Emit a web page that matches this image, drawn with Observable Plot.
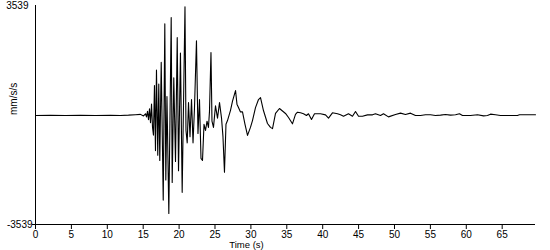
<!DOCTYPE html>
<html>
<head>
<meta charset="utf-8">
<script src="https://cdn.jsdelivr.net/npm/d3@7"></script>
<script src="https://cdn.jsdelivr.net/npm/@observablehq/plot@0.6"></script>
<style>
  html, body { margin: 0; padding: 0; background: #fff; }
  #chart svg { display: block; }
</style>
</head>
<body>
<div id="chart"></div>
<script>
const times = [
  0, 2.09, 4.18, 6.27, 8.36, 10.45, 11.84, 12.95, 13.93, 14.62,
  15.04, 15.32, 15.46, 15.60, 15.74, 15.88, 16.02, 16.16, 16.30, 16.43,
  16.57, 16.71, 16.85, 17.03, 17.17, 17.31, 17.51, 17.79, 18.01, 18.15,
  18.31, 18.57, 18.90, 19.04, 19.26, 19.50, 19.74, 19.92, 20.19, 20.43,
  20.82, 20.96, 21.13, 21.31, 21.52, 21.73, 21.94, 22.14, 22.42, 22.63,
  22.84, 23.05, 23.26, 23.47, 23.68, 23.89, 24.09, 24.23, 24.44, 24.58,
  24.79, 25.07, 25.35, 25.63, 25.91, 26.11, 26.32, 26.53, 26.74, 27.16,
  27.44, 27.86, 28.06, 28.27, 28.55, 28.83, 29.18, 29.53, 29.94, 30.22,
  30.64, 31.06, 31.34, 31.75, 32.31, 32.73, 33.01, 33.43, 33.98, 34.82,
  35.24, 35.79, 36.21, 36.49, 36.91, 37.33, 37.74, 38.02, 38.44, 38.86,
  39.69, 40.39, 40.81, 41.36, 42.06, 42.48, 42.90, 43.59, 44.15, 44.57,
  44.99, 45.54, 46.24, 46.94, 47.35, 48.05, 48.47, 49.16, 50.14, 50.84,
  51.53, 52.23, 52.92, 53.62, 54.32, 55.01, 55.71, 56.41, 57.10, 57.80,
  58.50, 59.05, 59.47, 60.58, 61.56, 62.40, 62.95, 63.37, 64.07, 64.76,
  66.16, 67.13, 67.41, 68.94, 69.64
];
const accel = [
  -15, -12, -18, -10, -14, -8, -15, -5, 10, 20,
  -30, 40, -60, 120, -150, 200, -250, 350, -400, -650,
  950, -1150, 1450, -1300, 1000, -1470, 1700, -2750, 2950, -2100,
  600, -3180, 3150, -2180, 1200, -1500, 2500, -1800, 2000, -2500,
  3500, -500, -900, 400, -700, 500, -900, 200, 2400, -600,
  500, -1400, -1470, -300, -500, -200, -400, 100, 2020, -200,
  -400, 300, -100, 400, -100, -700, -1850, -300, -180, 150,
  450, 790, 350, 240, 100, 100, -300, -660, -400, -180,
  240, 500, 560, 145, -275, -400, -440, 50, 210, 50,
  -80, -285, 20, 90, 70, 40, -16, 40, -145, 40,
  40, 5, -100, 70, 40, 5, -40, 38, -40, 113,
  -40, -40, 5, 5, 40, -16, 40, -60, 16, 60,
  16, 60, -16, -16, 6, 6, -16, -5, 16, -5,
  6, 38, -16, -16, 6, -27, -16, 27, 6, -16,
  -16, -16, 6, 6, 6
];
const xTicks = [0, 5, 10, 15, 20, 25, 30, 35, 40, 45, 50, 55, 60, 65];
const yMax = 3539;
const xLabel = "Time (s)";
const yLabel = "mm/s/s";

const data = times.map((t, i) => ({t, v: accel[i]}));

const chart = Plot.plot({
  width: 550,
  height: 250,
  marginLeft: 35,
  marginRight: 15,
  marginTop: 5,
  marginBottom: 26,
  style: {fontFamily: "'Liberation Sans', Arial, sans-serif", fontSize: "10px", color: "#000", background: "#fff"},
  x: {domain: [0, 69.64]},
  y: {domain: [-yMax, yMax]},
  marks: [
    Plot.axisX({ticks: xTicks, tickSize: 5, tickPadding: 1, label: null, fontSize: 10, tickFormat: d => String(d)}),
    Plot.axisY({ticks: [yMax], tickSize: 0, tickPadding: 7, label: null, fontSize: 10, tickFormat: d => String(d)}),
    Plot.axisY({ticks: [-yMax], tickSize: 3, tickPadding: 0, label: null, fontSize: 10, tickFormat: d => String(d)}),
    Plot.ruleX([0], {stroke: "#000"}),
    Plot.ruleY([-yMax], {stroke: "#000"}),
    Plot.line(data, {x: "t", y: "v", stroke: "#000", strokeWidth: 1.1}),
    Plot.text([xLabel], {frameAnchor: "bottom", dx: -39, dy: 20.9, lineAnchor: "middle", fontSize: 9.5, fill: "#000"}),
    Plot.text([yLabel], {frameAnchor: "left", dx: -22, rotate: -90, fontSize: 10, fill: "#000"})
  ]
});
document.getElementById("chart").appendChild(chart);
</script>
</body>
</html>
